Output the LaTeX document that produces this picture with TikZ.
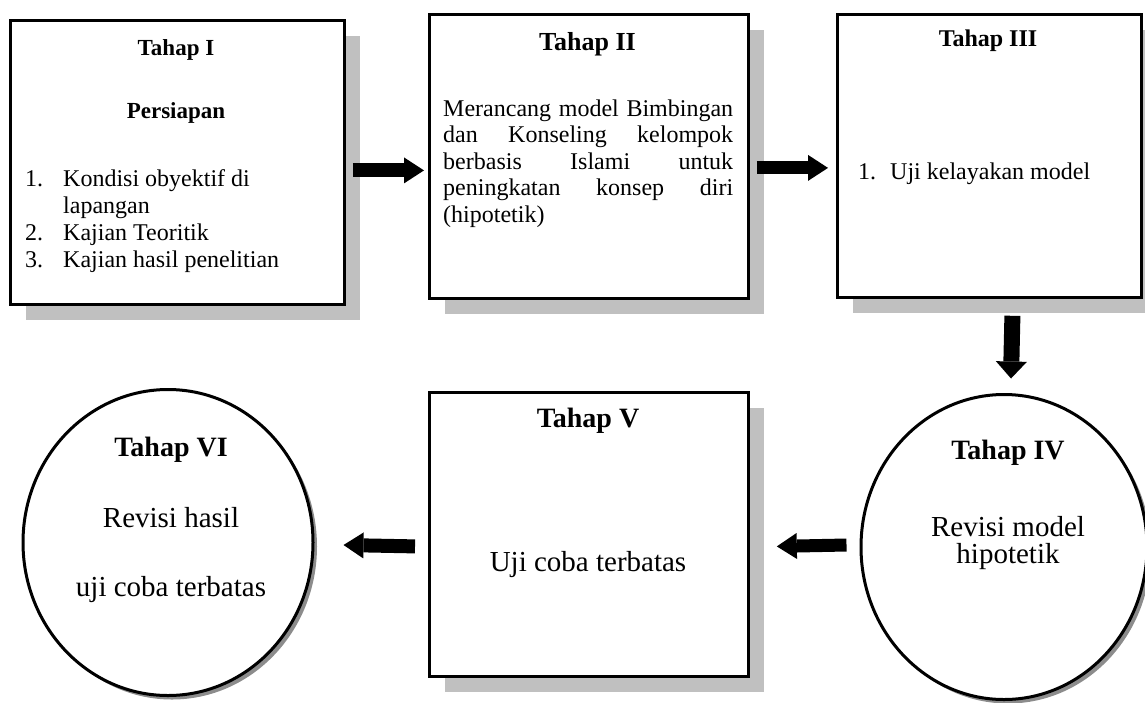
\documentclass[tikz,border=0pt]{standalone}
\usepackage{fontspec}
\setmainfont{Liberation Serif}
\usetikzlibrary{arrows.meta,shapes.geometric,shadows}
\definecolor{shadowgray}{RGB}{192,192,192}
\definecolor{ovalshadow}{RGB}{140,140,140}
\begin{document}
\begin{tikzpicture}[x=1pt,y=-1pt,
  box/.style={rectangle, draw=black, line width=2.8pt, fill=white, inner sep=0pt, anchor=north west,
    drop shadow={shadow xshift=16pt, shadow yshift=-16pt, fill=shadowgray, opacity=1}},
  oval/.style={ellipse, draw=black, line width=3pt, fill=white, inner sep=0pt,
    drop shadow={shadow xshift=4pt, shadow yshift=-4pt, fill=ovalshadow, opacity=1}},
  txt/.style={inner sep=0pt, anchor=base},
  ltxt/.style={inner sep=0pt, anchor=base west},
  body/.style={font=\fontsize{24}{27}\selectfont},
  big/.style={font=\fontsize{29}{32}\selectfont},
  bigarrow/.style={line width=14pt, -{Triangle[length=20pt,width=26pt,line width=0pt]}},
  downarrow/.style={line width=16pt, -{Triangle[length=17pt,width=31pt,line width=0pt]}}
]
\useasboundingbox (0,0) rectangle (1145,702);
\clip (0,0) rectangle (1145,702);

% boxes
\node[box, minimum width=334pt, minimum height=284pt] (b1) at (9,19) {};
\node[box, minimum width=319pt, minimum height=284pt] (b2) at (428,13) {};
\node[box, minimum width=304pt, minimum height=283pt] (b3) at (836,13) {};
\node[box, minimum width=319pt, minimum height=284pt] (b5) at (428,391) {};

% ovals
\node[oval, minimum width=286pt, minimum height=305pt] (c4) at (1004,547) {};
\node[oval, minimum width=290pt, minimum height=306pt] (c6) at (168,542.5) {};

% Tahap I
\node[txt, font=\fontsize{23}{26}\bfseries] (t1) at (176,55) {Tahap I};
\node[txt, font=\fontsize{23}{26}\bfseries] (p1) at (176,118) {Persiapan};
\node[ltxt, body] (l1a) at (25,186) {\makebox[38pt][l]{1.}Kondisi obyektif di};
\node[ltxt, body] (l1b) at (63,213) {lapangan};
\node[ltxt, body] (l1c) at (25,240) {\makebox[38pt][l]{2.}Kajian Teoritik};
\node[ltxt, body] (l1d) at (25,267) {\makebox[38pt][l]{3.}Kajian hasil penelitian};

% Tahap II
\node[txt, font=\fontsize{26}{29}\bfseries] (t2) at (587.5,50) {Tahap II};
\node[ltxt, body] (l2a) at (443,116) {\makebox[290pt][s]{Merancang model Bimbingan}};
\node[ltxt, body] (l2b) at (443,142.5) {\makebox[290pt][s]{dan Konseling kelompok}};
\node[ltxt, body] (l2c) at (443,169) {\makebox[290pt][s]{berbasis Islami untuk}};
\node[ltxt, body] (l2d) at (443,195.5) {\makebox[290pt][s]{peningkatan konsep diri}};
\node[ltxt, body] (l2e) at (443,222) {(hipotetik)};

% Tahap III
\node[txt, font=\fontsize{24}{27}\bfseries] (t3) at (988,46) {Tahap III};
\node[ltxt, body] (l3a) at (858,179) {\makebox[32pt][l]{1.}Uji kelayakan model};

% Tahap IV
\node[txt, font=\fontsize{28}{31}\bfseries] (t4) at (1008,459) {Tahap IV};
\node[txt, big] (l4a) at (1008,536) {Revisi model};
\node[txt, big] (l4b) at (1008,563) {hipotetik};

% Tahap V
\node[txt, font=\fontsize{28}{31}\bfseries] (t5) at (588,427) {Tahap V};
\node[txt, big] (l5a) at (588,571) {Uji coba terbatas};

% Tahap VI
\node[txt, font=\fontsize{28}{31}\bfseries] (t6) at (171,456) {Tahap VI};
\node[txt, big] (l6a) at (171,527) {Revisi hasil};
\node[txt, big] (l6b) at (171,596) {uji coba terbatas};

% arrows
\draw[bigarrow] ([shift={(7,8)}]b1.east) -- ([shift={(-4,14)}]b2.west);
\draw[bigarrow, line width=13pt] ([shift={(7,11.5)}]b2.east) -- ([shift={(-8,12)}]b3.west);
\draw[downarrow] ([shift={(23,17)}]b3.south) -- ([shift={(7,-14.5)}]c4.north);
\draw[bigarrow, line width=13pt] ([shift={(-13,-2)}]c4.west) -- ([shift={(27,12)}]b5.east);
\draw[bigarrow] ([shift={(-13,12)}]b5.west) -- ([shift={(29,2.5)}]c6.east);
\end{tikzpicture}
\end{document}
